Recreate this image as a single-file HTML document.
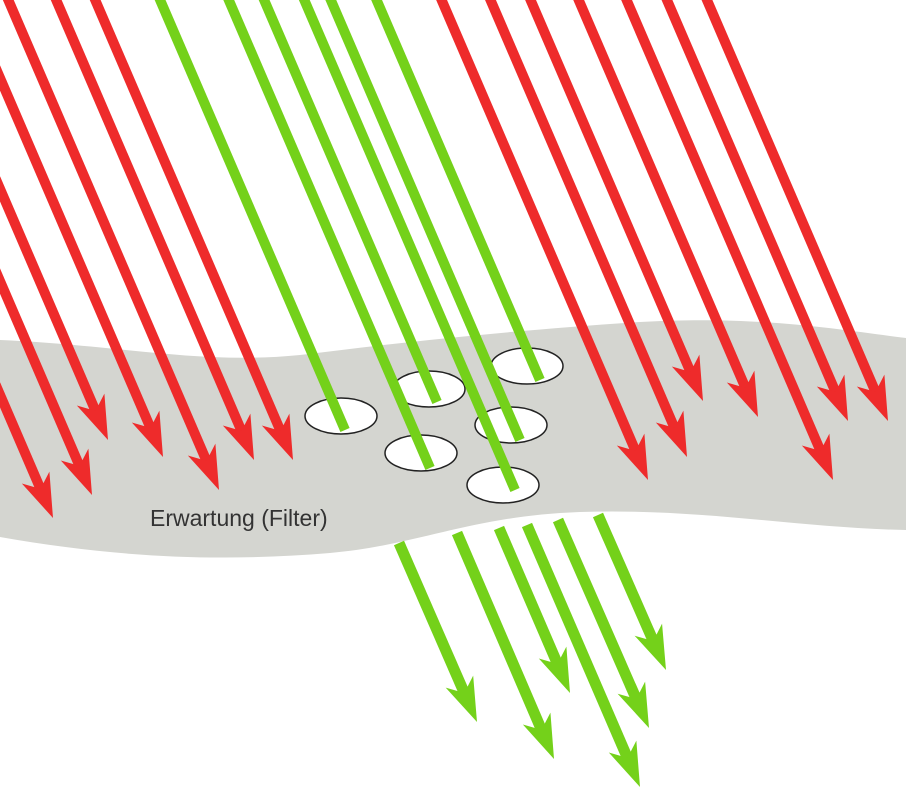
<!DOCTYPE html>
<html><head><meta charset="utf-8"><style>
html,body{margin:0;padding:0;background:#fff}
svg{display:block}
text{font-family:"Liberation Sans",sans-serif}
</style></head><body>
<svg id="c" width="906" height="788" viewBox="0 0 906 788">
<path fill="#d4d5d0"
 d="M0,340 C120,345 200,365 300,355 C420,340 520,330 640,322 C760,315 840,330 906,338 L906,530 C800,528 700,508 580,512 C470,516 420,545 330,553 C220,562 120,558 0,537 Z"/>
<g id="red"></g>
<g id="holes"></g>
<g id="green"></g>
<g id="greenOut"></g>
<text x="150" y="526" font-size="23" fill="#333">Erwartung (Filter)</text>
</svg>
<script>
const redTipsX=[53,92,108,163,219,254,293,648,687,703,758,833,848,888];
const redTipsY=[518,495,440,457,490,460,460,480,457,401,417,480,421,421];
const holeX=[341,429,421,527,511,503];
const holeY=[416,389,453,366,425,485];
const greenInEndX=[345,437,430,540,520,515];
const greenInEndY=[430,402,468,380,440,490];
const greenOutStartX=[399,457,499,527,558,598];
const greenOutStartY=[543,533,528,525,520,515];
const greenOutTipX=[477,554,570,640,649,666];
const greenOutTipY=[722,759,693,787,728,670];
const NS="http://www.w3.org/2000/svg";
const slope=0.43;
function line(g,x1,y1,x2,y2,col,w){const l=document.createElementNS(NS,'line');
l.setAttribute('x1',x1);l.setAttribute('y1',y1);l.setAttribute('x2',x2);l.setAttribute('y2',y2);
l.setAttribute('stroke',col);l.setAttribute('stroke-width',w);g.appendChild(l);return l;}
function arrow(g,x1,y1,x2,y2,col,name,w){
 const dx=x2-x1,dy=y2-y1,L=Math.hypot(dx,dy),ux=dx/L,uy=dy/L,px=-uy,py=ux;
 const hl=44,hw=15;
 const bx=x2-ux*hl,by=y2-uy*hl;
 const nx=x2-ux*hl*0.72,ny=y2-uy*hl*0.72;
 const l=line(g,x1,y1,nx+ux*4,ny+uy*4,col,w);
 
 
 const p=document.createElementNS(NS,'polygon');
 p.setAttribute('points',`${x2},${y2} ${bx+px*hw},${by+py*hw} ${nx},${ny} ${bx-px*hw},${by-py*hw}`);
 p.setAttribute('fill',col);
 
 
 g.appendChild(p);
}
const red=document.getElementById('red');
redTipsX.forEach((x,i)=>{const y=redTipsY[i];arrow(red,x-slope*(y+10),-10,x,y,'#ee2b2b','red-arrow',10);});
const holes=document.getElementById('holes');
holeX.forEach((x,i)=>{const e=document.createElementNS(NS,'ellipse');
e.setAttribute('cx',x);e.setAttribute('cy',holeY[i]);e.setAttribute('rx',36);e.setAttribute('ry',18);
e.setAttribute('fill','#fff');e.setAttribute('stroke','#222');e.setAttribute('stroke-width',1.5);


holes.appendChild(e);});
const green=document.getElementById('green');
greenInEndX.forEach((x,i)=>{const y=greenInEndY[i];const l=line(green,x-slope*(y+10),-10,x,y,'#74d11a',10);

});
const go=document.getElementById('greenOut');
greenOutTipX.forEach((x,i)=>arrow(go,greenOutStartX[i],greenOutStartY[i],x,greenOutTipY[i],'#74d11a','green-arrow',11));
</script>
</body></html>
